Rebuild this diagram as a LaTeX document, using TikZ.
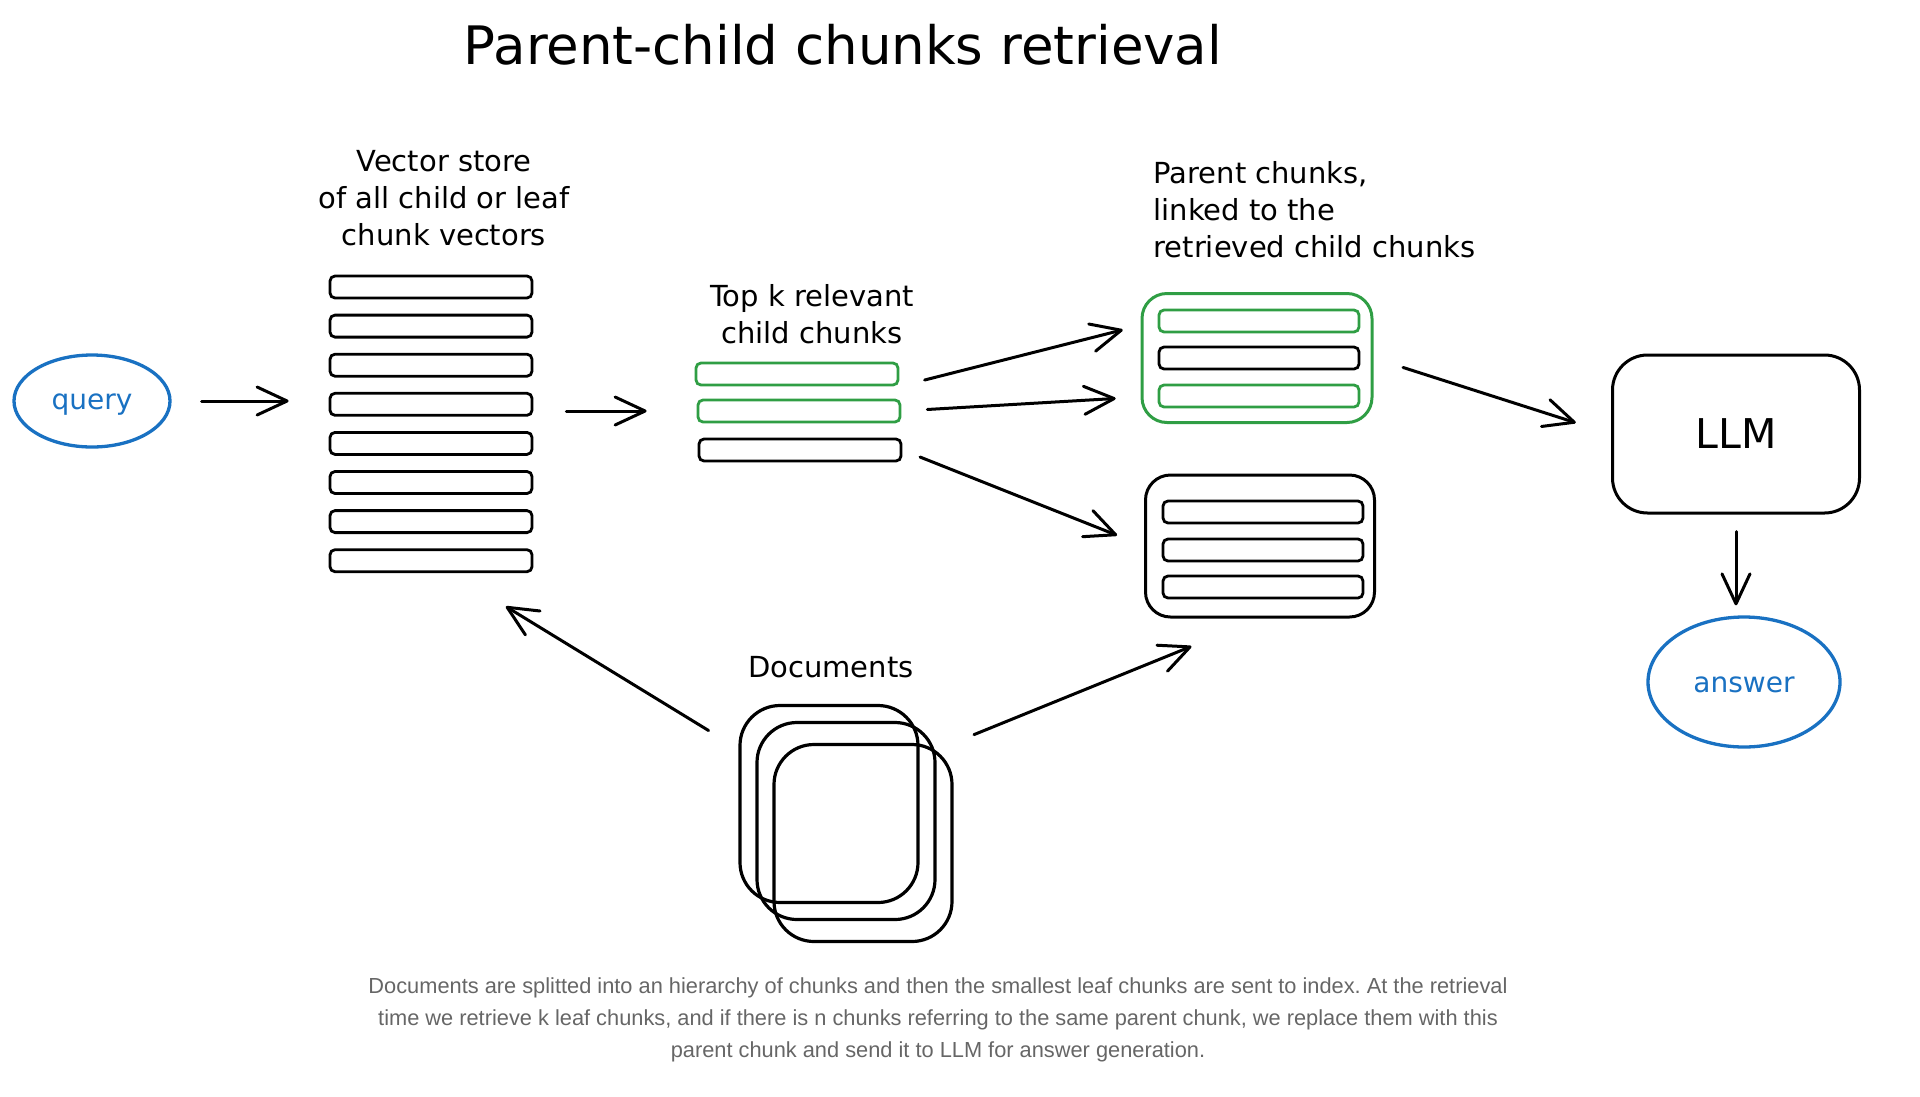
\documentclass[tikz,border=0pt]{standalone}
\usepackage{fontspec}
\setmainfont{DejaVu Sans}
\newfontfamily\capfont{Liberation Sans}
\usepackage{xcolor}
\usetikzlibrary{arrows.meta,shapes.geometric,positioning}
\definecolor{chunkgreen}{HTML}{2F9E44}
\definecolor{queryblue}{HTML}{1971C2}
\definecolor{captiongray}{HTML}{666666}
\frenchspacing

\begin{document}
\begin{tikzpicture}[x=1pt,y=-1pt,
	chunk/.style={draw,line width=2.8pt,rounded corners=5pt,minimum width=202pt,minimum height=22pt,inner sep=0pt},
	parentbox/.style={draw,line width=3pt,rounded corners=25pt,inner sep=0pt},
	bubble/.style={ellipse,draw=queryblue,line width=3.3pt,text=queryblue,inner sep=0pt,font=\fontsize{28}{30}\selectfont},
	handtext/.style={font=\fontsize{29}{37}\selectfont,align=center},
	arr/.style={-{Straight Barb[length=30pt,width=28pt,round]},line width=3pt,line cap=round}]
		\useasboundingbox (0,0) rectangle (1920,1096);
		\node[font=\fontsize{53}{60}\selectfont] (title) at (843,45) {Parent-child chunks retrieval};
		% query and vector store
		\node[bubble,minimum width=156pt,minimum height=92pt] (query) at (92,401) {\raisebox{-8pt}[0pt][0pt]{query}};
		\foreach \i in {1,...,8}
			\node[chunk] (vs\i) at (431,{287+39.1*(\i-1)}) {};
		\node[handtext] (vslabel) at (444,198) {Vector store\\of all child or leaf\\chunk vectors};
		% top k child chunks
		\node[chunk,draw=chunkgreen] (tk1) at (797,374) {};
		\node[chunk,draw=chunkgreen] (tk2) at (799,411) {};
		\node[chunk] (tk3) at (800,450) {};
		\node[handtext] (tklabel) at (812,314) {Top k relevant\\child chunks};
		% parent chunks
		\node[parentbox,draw=chunkgreen,minimum width=230pt,minimum height=129pt] (pa) at (1257,358) {};
			\node[chunk,minimum width=200pt,draw=chunkgreen] (pa1) at (1259,321) {};
			\node[chunk,minimum width=200pt] (pa2) at (1259,358) {};
			\node[chunk,minimum width=200pt,draw=chunkgreen] (pa3) at (1259,396) {};
		\node[parentbox,minimum width=229pt,minimum height=142pt] (pb) at (1260,546) {};
			\foreach \i/\y in {1/512,2/550,3/587}
				\node[chunk,minimum width=200pt] (pb\i) at (1263,\y) {};
		\node[handtext,align=left,anchor=west] (palabel) at (1150,210) {Parent chunks,\\linked to the\\retrieved child chunks};
		% LLM and answer
		\node[parentbox,rounded corners=35pt,minimum width=247pt,minimum height=158pt,font=\fontsize{41}{45}\selectfont] (llm) at (1736,434) {LLM};
		\node[bubble,minimum width=192pt,minimum height=130pt] (answer) at (1744,682) {\raisebox{-10pt}[0pt][0pt]{answer}};
		% documents
		\node[handtext] (doclabel) at (831,667) {Documents};
		\foreach \i/\dx/\dy in {1/829/804,2/846/821,3/863/843}
			\node[parentbox,line width=3.2pt,rounded corners=40pt,minimum width=178pt,minimum height=197pt] (doc\i) at (\dx,\dy) {};
		\node[font=\capfont\fontsize{21.8}{32}\selectfont,text=captiongray,align=center] (caption) at (938,1020) {Documents are splitted into an hierarchy of chunks and then the smallest leaf chunks are sent to index. At the retrieval\\time we retrieve k leaf chunks, and if there is n chunks referring to the same parent chunk, we replace them with this\\parent chunk and send it to LLM for answer generation.};
		% arrows
		\draw[arr,shorten <=30pt,shorten >=40pt] (query.east) -- (query.east -| vs4.west);
		\draw[arr,shorten <=33pt,shorten >=50pt] (vs4.east |- tk2.west) -- (tk2.west);
		\draw[arr,shorten <=26pt,shorten >=36pt] (tk1.south east) -- (pa1.west);
		\draw[arr,shorten <=26pt,shorten >=42pt] (tk2.east) -- (pa3.west);
		\draw[arr,shorten <=19pt,shorten >=29pt] (tk3.east) -- (pb.west);
		\draw[arr,shorten <=31pt,shorten >=37pt] (pa.east) -- (llm.west);
		\draw[arr,shorten <=17pt,shorten >=10pt] (llm.south) -- (llm.south |- answer.north);
		\draw[arr,shorten <=35pt,shorten >=64pt] (doc1) -- (vs8);
		\draw[arr,shorten <=22pt,shorten >=74pt] (doc3.north east) -- (pb.south);
\end{tikzpicture}
\end{document}
